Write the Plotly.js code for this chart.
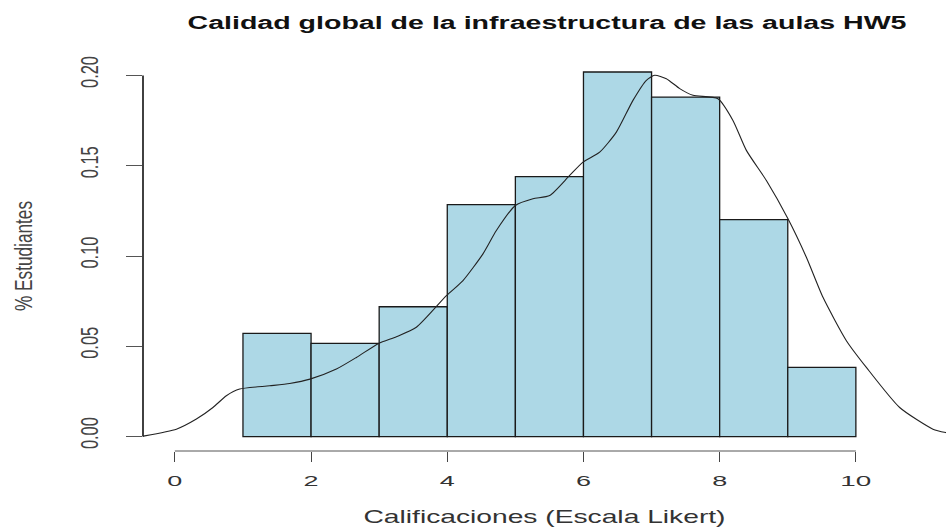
<!DOCTYPE html>
<html>
<head>
<meta charset="utf-8">
<script src="https://cdn.plot.ly/plotly-3.0.1.min.js"></script>
<style>
  html, body { margin: 0; padding: 0; background: #fff; }
  #chart { width: 946px; height: 529px; }
</style>
</head>
<body>
<div id="chart"></div>
<script>
// ---- data ----
const binEdges = [1, 2, 3, 4, 5, 6, 7, 8, 9, 10];
const binDensity = [0.0571, 0.0516, 0.0719, 0.1285, 0.1440, 0.2019, 0.1880, 0.1202, 0.0383];

const densX = [-0.50, -0.468, 0.022, 0.316, 0.559, 0.756, 0.952, 1.392, 1.686, 1.984, 2.372, 2.665,
  2.993, 3.253, 3.546, 3.987, 4.231, 4.524, 4.721, 5.000, 5.258, 5.504, 5.797, 5.993, 6.238,
  6.483, 6.727, 6.924, 7.046, 7.217, 7.413, 7.608, 7.975, 8.195, 8.392, 8.686, 9.003, 9.273,
  9.517, 9.861, 10.154, 10.643, 11.132, 11.319, 11.50];
const densY = [0.0000, 0.0002, 0.0041, 0.0097, 0.0161, 0.0226, 0.0263, 0.0281, 0.0294, 0.0318, 0.0374, 0.0438,
  0.0516, 0.0553, 0.0605, 0.0780, 0.0864, 0.1012, 0.1141, 0.1280, 0.1317, 0.1335, 0.1446, 0.1520, 0.1575,
  0.1686, 0.1862, 0.1973, 0.2001, 0.1982, 0.1927, 0.1890, 0.1871, 0.1751, 0.1585, 0.1418, 0.1206, 0.0993,
  0.0771, 0.0531, 0.0383, 0.0161, 0.0041, 0.0022, 0.0012];

const xTickVals = [0, 2, 4, 6, 8, 10];
const xTickText = ['0', '2', '4', '6', '8', '10'];
const yTickVals = [0, 0.05, 0.10, 0.15, 0.20];
const yTickText = ['0.00', '0.05', '0.10', '0.15', '0.20'];

const titleText = 'Calidad global de la infraestructura de las aulas HW5';
const xTitleText = 'Calificaciones (Escala Likert)';
const yTitleText = '% Estudiantes';

// ---- build traces ----
const centers = binDensity.map((_, i) => (binEdges[i] + binEdges[i + 1]) / 2);
const widths = binDensity.map((_, i) => binEdges[i + 1] - binEdges[i]);

const bars = {
  type: 'bar',
  x: centers,
  y: binDensity,
  width: widths,
  marker: { color: '#ADD8E6', line: { color: '#1a1a1a', width: 1.3 } },
  hoverinfo: 'skip'
};
const dens = {
  type: 'scatter',
  mode: 'lines',
  x: densX,
  y: densY,
  line: { color: '#222', width: 1.1, shape: 'spline', smoothing: 0.6 },
  hoverinfo: 'skip'
};

const layout = {
  width: 946,
  height: 529,
  margin: { l: 143, r: 0, t: 61, b: 78 },
  paper_bgcolor: '#fff',
  plot_bgcolor: '#fff',
  showlegend: false,
  font: { family: 'Liberation Sans, Arial, sans-serif', color: '#222' },
  title: {
    text: '<b>' + titleText + '</b>',
    font: { size: 18, color: '#111', family: 'Liberation Sans, Arial, sans-serif' },
    xref: 'container', x: 547 / 946, xanchor: 'center',
    yref: 'container', y: 1 - 22.5 / 529, yanchor: 'middle'
  },
  xaxis: {
    range: [-0.468, -0.468 + 803 / 68.1],
    tickvals: xTickVals,
    ticktext: xTickText,
    ticks: 'outside',
    ticklen: 10,
    tickwidth: 1,
    tickcolor: '#444',
    showline: false,
    showgrid: false,
    zeroline: false,
    tickfont: { size: 15, color: '#333' },
    ticklabelstandoff: 6,
    title: { text: xTitleText, font: { size: 19, color: '#333' }, standoff: 21 }
  },
  yaxis: {
    range: [-0.008, 0.208],
    tickvals: yTickVals,
    ticktext: yTickText,
    tickangle: -90,
    ticks: 'outside',
    ticklen: 16,
    tickwidth: 1,
    tickcolor: '#555',
    showline: false,
    showgrid: false,
    zeroline: false,
    tickfont: { size: 23, color: '#444' },
    ticklabelstandoff: 19,
    title: { text: yTitleText, font: { size: 23, color: '#444' }, standoff: 37 }
  },
  shapes: [
    { type: 'line', xref: 'x', yref: 'paper', x0: 0, x1: 10, y0: 0, y1: 0,
      line: { color: '#555', width: 1 } },
    { type: 'line', xref: 'paper', yref: 'y', x0: 0, x1: 0, y0: 0, y1: 0.2,
      line: { color: '#111', width: 1.6 } }
  ]
};

Plotly.newPlot('chart', [bars, dens], layout, { staticPlot: true, displayModeBar: false }).then(gd => {
  // emulate the horizontally stretched original by fitting text lengths
  const fit = (el, len) => {
    if (!el) return;
    el.setAttribute('textLength', len);
    el.setAttribute('lengthAdjust', 'spacingAndGlyphs');
  };
  fit(gd.querySelector('.gtitle'), 719);
  fit(gd.querySelector('.xtitle'), 362);
  fit(gd.querySelector('.ytitle'), 110);
  gd.querySelectorAll('.xtick text').forEach(t => fit(t, t.textContent.length > 1 ? 31 : 15));
  gd.querySelectorAll('.ytick text').forEach(t => fit(t, 32));
});
</script>
</body>
</html>
